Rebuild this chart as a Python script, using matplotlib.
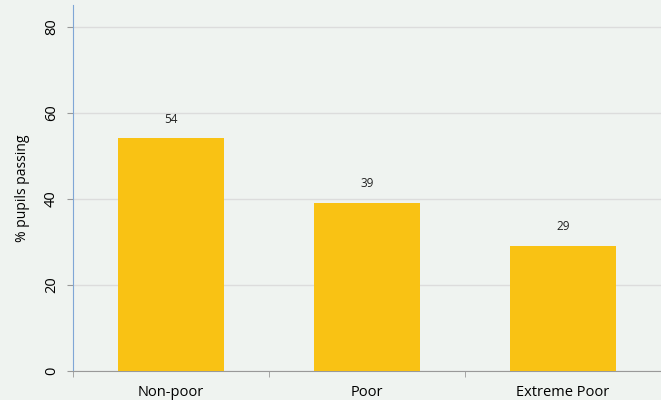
import matplotlib
matplotlib.use("Agg")
import matplotlib.pyplot as plt
from matplotlib.ticker import FixedLocator

categories = ["Non-poor", "Poor", "Extreme Poor"]
values = [54, 39, 29]
yticks = [0, 20, 40, 60, 80]

bg = "#EFF3F0"
plt.rcParams['font.family'] = ['Open Sans', 'DejaVu Sans']

fig = plt.figure(figsize=(6.61, 4.0), dpi=100, facecolor=bg)
ax = fig.add_axes([73/661, 29/400, 588/661, 366/400])
ax.set_facecolor(bg)

x = list(range(len(categories)))
bars = ax.bar(x, values, width=0.545, color="#F9C214", zorder=3)
for xi, v in zip(x, values):
    ax.text(xi, v + 3.0, f"{v}", ha="center", va="bottom", fontsize=8.5, color="#222222")

ax.set_xlim(-0.5, 2.5)
ax.set_ylim(0, 85)
ax.set_yticks(yticks)
ax.set_yticklabels([str(t) for t in yticks], rotation=90, va="center", fontsize=10.5)
ax.yaxis.grid(True, color="#DCDCDC", linewidth=1, zorder=0)
ax.set_axisbelow(True)
ax.set_xticks(x)
ax.set_xticklabels(categories, fontsize=10.5)
ax.tick_params(axis="x", length=0, pad=10)
ax.xaxis.set_minor_locator(FixedLocator([-0.5, 0.5, 1.5]))
ax.tick_params(axis="x", which="minor", length=4, color="#999999")
ax.tick_params(axis="y", length=4, color="#999999", pad=6)
ax.set_ylabel("% pupils passing", fontsize=10, labelpad=10)

for s in ["top", "right"]:
    ax.spines[s].set_visible(False)
ax.spines["left"].set_color("#7FA6D6")
ax.spines["bottom"].set_color("#999999")

fig.savefig("out.png", dpi=100, facecolor=bg)
